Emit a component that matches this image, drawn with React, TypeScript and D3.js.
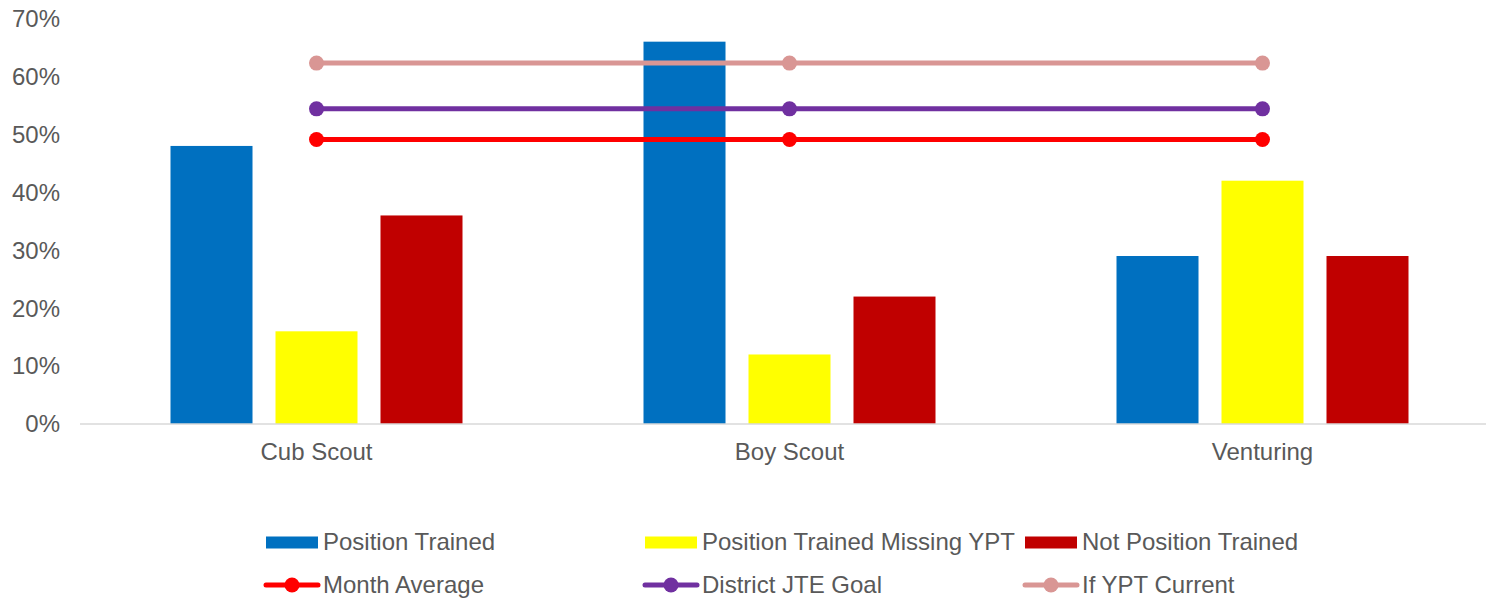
import React from 'react';
import * as d3 from 'd3';

// chart data
const categories = ['Cub Scout', 'Boy Scout', 'Venturing'];
const barSeries = ['Position Trained', 'Position Trained Missing YPT', 'Not Position Trained'];
const positionTrained = [0.48, 0.66, 0.29];
const missingYpt = [0.16, 0.12, 0.42];
const notTrained = [0.36, 0.22, 0.29];
const lineSeries = ['Month Average', 'District JTE Goal', 'If YPT Current'];
const monthAverage = [0.491, 0.491, 0.491];
const districtGoal = [0.544, 0.544, 0.544];
const ifYptCurrent = [0.623, 0.623, 0.623];
const yTicks = [0, 0.1, 0.2, 0.3, 0.4, 0.5, 0.6, 0.7];

const barColors = ['#0070C0', '#FFFF00', '#C00000'];
const lineColors = ['#FF0000', '#7030A0', '#D99694'];

const W = 1486, H = 598;
const FONT = 'Liberation Sans, Arial, sans-serif';
const TEXT = '#595959';
const FS = 24;

export default function App() {
    const barValues = [positionTrained, missingYpt, notTrained];
    const lineValues = [monthAverage, districtGoal, ifYptCurrent];

    let x0 = d3.scaleBand<string>()
        .domain(categories)
        .range([80, 1499]);

    // bars inside a category band
    let x1 = d3.scaleBand<string>()
        .domain(barSeries)
        .range([90.5, x0.bandwidth() - 90.5])
        .paddingInner(0.219);

    let y = d3.scaleLinear()
        .domain([0, 0.7])
        .range([424, 18.5]);

    let pct = d3.format('.0%');
    let line = d3.line<number>()
        .x((d, i) => x0(categories[i])! + x0.bandwidth() / 2)
        .y(d => y(d));

    // legend slots
    let legendX = [266, 645, 1025];

    return (
        <svg width={W} height={H} style={{position: 'absolute', left: 0, top: 0, display: 'block'}}
             fontFamily={FONT}>
            <rect width={W} height={H} fill="#fff" />

            {/* y tick labels */}
            {yTicks.map(t => (
                <text key={t} x={60} y={y(t)} dy="0.35em" textAnchor="end" fontSize={FS} fill={TEXT}>
                    {pct(t)}
                </text>
            ))}

            {/* bars */}
            {barValues.map((vals, s) => (
                <g key={s}>
                    {vals.map((v, i) => (
                        <rect key={i}
                              x={x0(categories[i])! + x1(barSeries[s])!}
                              y={y(v)}
                              width={x1.bandwidth()}
                              height={y(0) - y(v)}
                              fill={barColors[s]} />
                    ))}
                </g>
            ))}

            {/* x axis */}
            <line x1={80} x2={W} y1={y(0)} y2={y(0)} stroke="#D9D9D9" strokeWidth={1.5} />
            {categories.map(c => (
                <text key={c} x={x0(c)! + x0.bandwidth() / 2} y={460} textAnchor="middle" fontSize={FS} fill={TEXT}>
                    {c}
                </text>
            ))}

            {/* lines */}
            {lineValues.map((vals, s) => (
                <g key={s}>
                    <path d={line(vals)!} fill="none" stroke={lineColors[s]} strokeWidth={5} />
                    {vals.map((v, i) => (
                        <circle key={i} cx={x0(categories[i])! + x0.bandwidth() / 2} cy={y(v)} r={7.5}
                                fill={lineColors[s]} />
                    ))}
                </g>
            ))}

            {/* legend */}
            {barSeries.map((name, s) => (
                <g key={name} transform={`translate(${legendX[s]},542)`}>
                    <rect x={0} y={-5.5} width={52} height={12} fill={barColors[s]} />
                    <text x={57} y={7.5} fontSize={FS} fill={TEXT}>{name}</text>
                </g>
            ))}
            {lineSeries.map((name, s) => (
                <g key={name} transform={`translate(${legendX[s]},585)`}>
                    <line x1={0} x2={52} y1={0} y2={0} stroke={lineColors[s]} strokeWidth={5} strokeLinecap="round" />
                    <circle cx={26} cy={0} r={7.5} fill={lineColors[s]} />
                    <text x={57} y={7.5} fontSize={FS} fill={TEXT}>{name}</text>
                </g>
            ))}
        </svg>
    );
}
